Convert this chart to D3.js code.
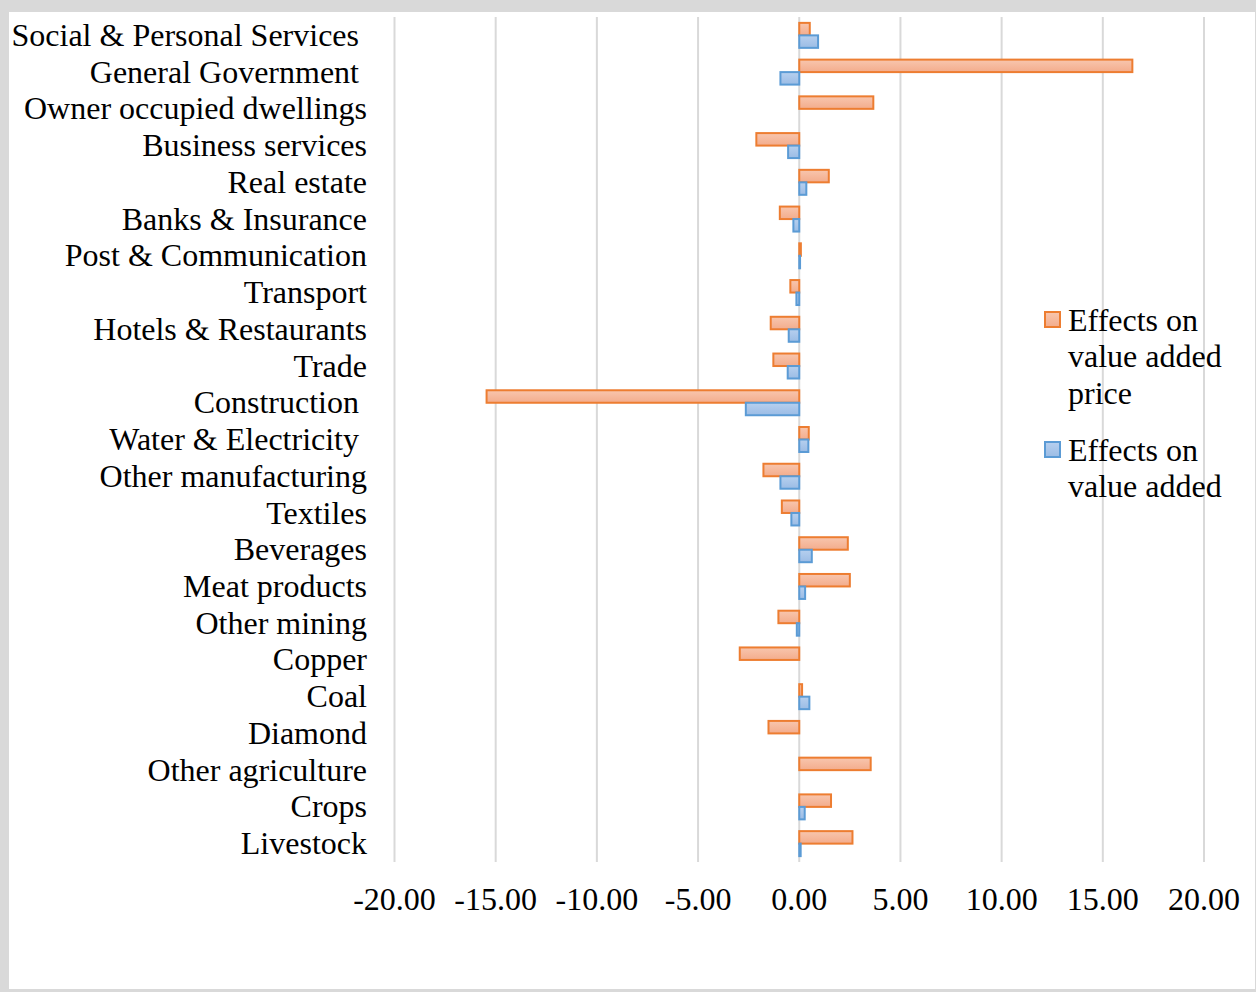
<!DOCTYPE html>
<html>
<head>
<meta charset="utf-8">
<script src="https://cdn.jsdelivr.net/npm/d3@7"></script>
<style>
  html, body { margin: 0; padding: 0; background: #fff; }
  svg { display: block; }
  text { font-family: "Liberation Serif", "Times New Roman", serif; fill: #000; }
</style>
</head>
<body>
<svg id="chart" width="1256" height="992"></svg>
<script>
// Sectors, listed top to bottom (some labels carry a trailing space)
const categories = [
  "Social & Personal Services ",
  "General Government ",
  "Owner occupied dwellings",
  "Business services",
  "Real estate",
  "Banks & Insurance",
  "Post & Communication",
  "Transport",
  "Hotels & Restaurants",
  "Trade",
  "Construction ",
  "Water & Electricity ",
  "Other manufacturing",
  "Textiles",
  "Beverages",
  "Meat products",
  "Other mining",
  "Copper",
  "Coal",
  "Diamond",
  "Other agriculture",
  "Crops",
  "Livestock"
];

// Effects on value added price (%)
const priceEffects = [
  0.52, 16.46, 3.66, -2.12, 1.46, -0.96, 0.08, -0.44, -1.41, -1.28,
  -15.45, 0.47, -1.77, -0.86, 2.40, 2.50, -1.03, -2.94, 0.14, -1.52,
  3.53, 1.57, 2.63
];

// Effects on value added (%)
const valueAddedEffects = [
  0.93, -0.93, 0.00, -0.55, 0.35, -0.29, 0.04, -0.14, -0.52, -0.57,
  -2.64, 0.45, -0.93, -0.39, 0.62, 0.29, -0.12, 0.00, 0.50, 0.00,
  0.00, 0.27, 0.07
];

const tickValues = [-20, -15, -10, -5, 0, 5, 10, 15, 20];

const seriesKeys = ["price", "valueAdded"];
const legendLines = [
  ["Effects on", "value added", "price"],
  ["Effects on", "value added"]
];

const rows = categories.map((c, i) => ({
  category: c,
  price: priceEffects[i],
  valueAdded: valueAddedEffects[i]
}));

const W = 1256, H = 992;
const svg = d3.select("#chart");

// Frame: grey surround with white plot card
svg.append("rect").attr("width", W).attr("height", H).attr("fill", "#d9d9d9");
svg.append("rect").attr("x", 9).attr("y", 12).attr("width", 1246).attr("height", 977).attr("fill", "#fff");

const defs = svg.append("defs");
const gradSpecs = {
  price: { top: "#f8c6ae", bottom: "#f3ac8c", stroke: "#ed7d31" },
  valueAdded: { top: "#b7d0ef", bottom: "#9bbce5", stroke: "#5b9bd5" }
};
Object.entries(gradSpecs).forEach(([k, g]) => {
  const lg = defs.append("linearGradient").attr("id", "grad-" + k)
    .attr("x1", 0).attr("y1", 0).attr("x2", 0).attr("y2", 1);
  lg.append("stop").attr("offset", "0%").attr("stop-color", g.top);
  lg.append("stop").attr("offset", "100%").attr("stop-color", g.bottom);
});

const x = d3.scaleLinear().domain([-20, 20]).range([394.5, 1204]);
const y = d3.scaleBand().domain(categories).range([17, 862])
  .paddingInner(0.32).paddingOuter(0.16);
const ySub = d3.scaleBand().domain(seriesKeys).range([0, y.bandwidth()]);

// Vertical gridlines
svg.append("g")
  .selectAll("line")
  .data(tickValues)
  .join("line")
  .attr("x1", d => x(d)).attr("x2", d => x(d))
  .attr("y1", 17).attr("y2", 862)
  .attr("stroke", "#d9d9d9")
  .attr("stroke-width", 2);

// Bars
const groups = svg.append("g")
  .selectAll("g")
  .data(rows)
  .join("g")
  .attr("transform", d => `translate(0,${y(d.category)})`);

groups.selectAll("rect")
  .data(d => seriesKeys.map(k => ({ key: k, value: d[k] })))
  .join("rect")
  .attr("x", d => x(Math.min(0, d.value)))
  .attr("width", d => Math.abs(x(d.value) - x(0)))
  .attr("y", d => ySub(d.key))
  .attr("height", ySub.bandwidth())
  .attr("fill", d => `url(#grad-${d.key})`)
  .attr("stroke", d => d.value === 0 ? "none" : gradSpecs[d.key].stroke)
  .attr("stroke-width", 2);

// Category labels
svg.append("g")
  .selectAll("text")
  .data(categories)
  .join("text")
  .attr("x", 367)
  .attr("y", d => y(d) + y.bandwidth() / 2)
  .attr("dy", "0.33em")
  .attr("text-anchor", "end")
  .style("white-space", "pre")
  .attr("font-size", 32)
  .text(d => d);

// Value axis tick labels (plain hyphen for negatives)
const fmt = v => d3.format(".2f")(v).replace("\u2212", "-");
svg.append("g")
  .selectAll("text")
  .data(tickValues)
  .join("text")
  .attr("x", d => x(d))
  .attr("y", 910)
  .attr("text-anchor", "middle")
  .attr("font-size", 32)
  .text(fmt);

// Legend
const legendTop = [312, 442];
const legend = svg.append("g")
  .selectAll("g")
  .data(seriesKeys)
  .join("g")
  .attr("transform", (d, i) => `translate(1045,${legendTop[i]})`);

legend.append("rect")
  .attr("width", 15).attr("height", 15)
  .attr("fill", d => `url(#grad-${d})`)
  .attr("stroke", d => gradSpecs[d].stroke)
  .attr("stroke-width", 2);

legend.each(function (d, i) {
  d3.select(this).selectAll("text")
    .data(legendLines[i])
    .join("text")
    .attr("x", 23)
    .attr("y", (t, j) => 18.5 + j * 36.5)
    .attr("font-size", 32)
    .text(t => t);
});
</script>
</body>
</html>
